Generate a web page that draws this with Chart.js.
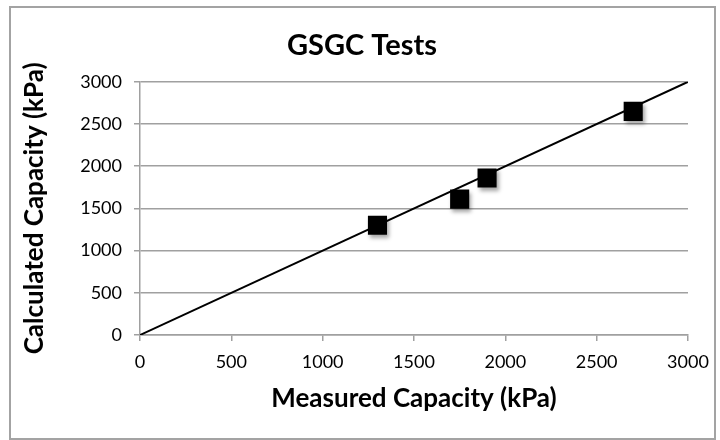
<!DOCTYPE html>
<html>
<head>
<meta charset="utf-8">
<script src="https://cdn.jsdelivr.net/npm/chart.js@4.4.1/dist/chart.umd.min.js"></script>
<style>
  html, body { margin: 0; padding: 0; background: #fff; }
  #wrap { position: relative; width: 720px; height: 440px; }
  #frame { position: absolute; left: 9px; top: 6px; width: 703px; height: 430px; border: 2px solid #a3a3a3; pointer-events: none; }
  canvas { position: absolute; left: 0; top: 0; }
</style>
</head>
<body>
<div id="wrap">
  <canvas id="grafico" width="720" height="440"></canvas>
  <div id="frame"></div>
</div>
<script>
// Dados
const medido = [1300, 1750, 1900, 2700];      // Measured Capacity (kPa)
const calculado = [1300, 1610, 1860, 2650];   // Calculated Capacity (kPa)
const linhaX = [0, 3000];                     // linha 1:1
const linhaY = [0, 3000];
const ticksEixo = [0, 500, 1000, 1500, 2000, 2500, 3000];

const FONTE = 'Lato, "Open Sans", sans-serif';
const CINZA = '#a0a0a0';

const pontos = medido.map((x, i) => ({ x: x, y: calculado[i] }));
const linha = linhaX.map((x, i) => ({ x: x, y: linhaY[i] }));

// Sombra dos quadrados
const sombraPlugin = {
    id: 'sombra',
    beforeDatasetDraw(chart, args) {
        if (args.index !== 0) return;
        const c = chart.ctx;
        c.save();
        c.shadowColor = 'rgba(0,0,0,0.35)';
        c.shadowBlur = 4;
        c.shadowOffsetX = 2;
        c.shadowOffsetY = 3;
    },
    afterDatasetDraw(chart, args) {
        if (args.index !== 0) return;
        chart.ctx.restore();
    }
};

// Desloca o título para a posição do original
const tituloPlugin = {
    id: 'moverTitulo',
    afterLayout(chart) {
        if (chart.titleBlock) chart.titleBlock.left += 36;
    }
};

function fixarTicks(scale) {
    scale.ticks = ticksEixo.map(v => ({ value: v }));
}

// Sem separador de milhares
const semVirgula = v => String(v);

new Chart(document.getElementById('grafico'), {
    type: 'scatter',
    data: {
        datasets: [{
            label: 'GSGC',
            data: pontos,
            pointStyle: 'rect',
            pointRadius: 13.5,
            pointHoverRadius: 13.5,
            backgroundColor: '#000',
            borderColor: '#000',
            borderWidth: 0,
            order: 1
        }, {
            label: '1:1',
            data: linha,
            showLine: true,
            pointRadius: 0,
            borderColor: '#000',
            borderWidth: 2,
            order: 2
        }]
    },
    options: {
        responsive: false,
        animation: false,
        layout: { padding: { left: 0, right: 32, top: 0, bottom: 0 } },
        plugins: {
            legend: { display: false },
            tooltip: { enabled: false },
            title: {
                display: true,
                text: 'GSGC Tests',
                color: '#000',
                font: { family: FONTE, size: 29, weight: 'bold' },
                padding: { top: 28, bottom: 19 }
            }
        },
        scales: {
            x: {
                type: 'linear',
                min: 0,
                max: 3000,
                afterBuildTicks: fixarTicks,
                afterFit: s => { s.height = 105; },
                grid: { drawOnChartArea: false, drawTicks: true, tickLength: 6, color: CINZA, lineWidth: 1.5 },
                border: { color: CINZA, width: 1.5 },
                ticks: { color: '#000', padding: 10, font: { family: FONTE, size: 18 }, callback: semVirgula },
                title: {
                    display: true,
                    text: 'Measured Capacity (kPa)',
                    color: '#000',
                    font: { family: FONTE, size: 26, weight: 'bold' },
                    padding: { top: 0, bottom: 26 }
                }
            },
            y: {
                type: 'linear',
                min: 0,
                max: 3000,
                afterBuildTicks: fixarTicks,
                afterFit: s => { s.width = 140; },
                grid: { drawTicks: true, tickLength: 6, color: CINZA, lineWidth: 1.5 },
                border: { color: CINZA, width: 1.5 },
                ticks: { color: '#000', padding: 12, font: { family: FONTE, size: 18 }, callback: semVirgula },
                title: {
                    display: true,
                    text: 'Calculated Capacity (kPa)',
                    color: '#000',
                    font: { family: FONTE, size: 26, weight: 'bold' },
                    padding: { top: 19, bottom: 0 }
                }
            }
        }
    },
    plugins: [sombraPlugin, tituloPlugin]
});
</script>
</body>
</html>
